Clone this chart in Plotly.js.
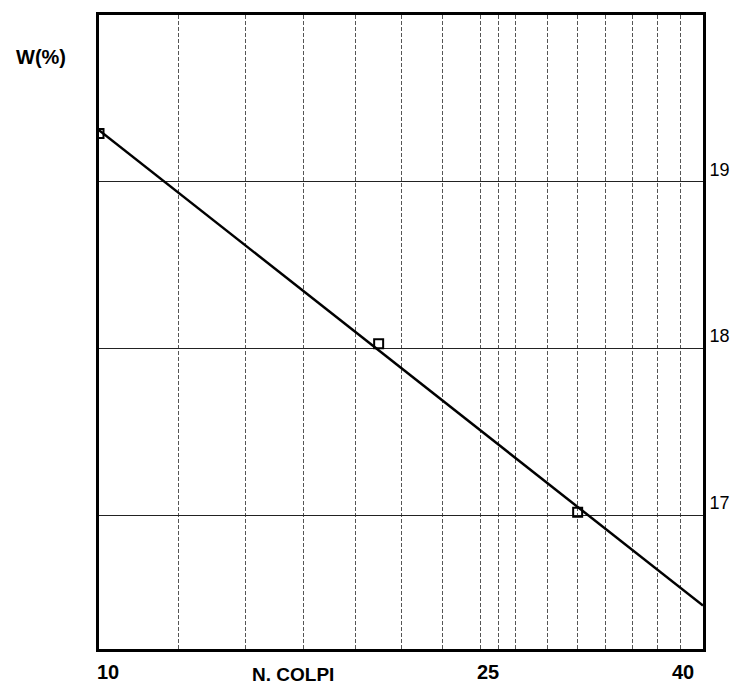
<!DOCTYPE html>
<html>
<head>
<meta charset="utf-8">
<script src="https://cdn.plot.ly/plotly-3.0.1.min.js"></script>
<style>html,body{margin:0;padding:0;background:#fff;}#chart{width:733px;height:686px;}</style>
</head>
<body>
<div id="chart"></div>
<script>
// Measured points: number of blows (N. COLPI) vs water content W(%)
const blows = [10, 19, 30];
const waterContent = [19.29, 18.03, 17.02];
// Fitted straight line (semi-log), read at its two ends
const fitBlows = [10, 40];
const fitWater = [19.31, 16.46];
// Vertical grid positions on the log axis
const gridBlows = [10, 12, 14, 16, 18, 20, 22, 24, 25, 26, 28, 30, 32, 34, 36, 38, 40];
// Labelled x ticks and their small offsets in the original drawing
const xTickValues = [10, 25, 40];
const xTickText = ['10', '25', '40'];
const xTickShift = [9, -10, -20];
// y ticks (right side)
const yTickValues = [17, 18, 19];
const yTickText = ['17', '18', '19'];

const FONT = 'Liberation Sans, Arial, sans-serif';

const traces = [
  {
    x: fitBlows, y: fitWater, type: 'scatter', mode: 'lines',
    line: {color: '#000', width: 2.5}, hoverinfo: 'skip', showlegend: false
  },
  {
    x: blows, y: waterContent, type: 'scatter', mode: 'markers',
    marker: {symbol: 'square-open', size: 9, color: '#000', line: {width: 2, color: '#000'}},
    showlegend: false
  }
];

const annotations = xTickValues.map((v, i) => ({
  x: Math.log10(v), xref: 'x', y: 0, yref: 'paper',
  text: '<b>' + xTickText[i] + '</b>', showarrow: false,
  xanchor: 'center', yanchor: 'middle', xshift: xTickShift[i], yshift: -23,
  font: {family: FONT, size: 20, color: '#000'}
}));
annotations.push({
  x: 0.321, xref: 'paper', y: 0, yref: 'paper', text: '<b>N. COLPI</b>', showarrow: false,
  xanchor: 'center', yanchor: 'middle', yshift: -25,
  font: {family: FONT, size: 19, color: '#000'}
});
annotations.push({
  x: -0.096, xref: 'paper', y: 0.934, yref: 'paper', text: '<b>W(%)</b>', showarrow: false,
  xanchor: 'center', yanchor: 'middle',
  font: {family: FONT, size: 20, color: '#000'}
});

const layout = {
  width: 733, height: 686,
  margin: {l: 99, r: 30, t: 15, b: 37, pad: 0},
  paper_bgcolor: '#fff', plot_bgcolor: '#fff',
  showlegend: false,
  xaxis: {
    type: 'log', range: [1, Math.log10(40)],
    tickmode: 'array', tickvals: gridBlows, showticklabels: false, ticks: '',
    showgrid: true, gridcolor: '#555', gridwidth: 1, griddash: '4px,2px',
    showline: true, mirror: true, linecolor: '#000', linewidth: 3,
    zeroline: false, fixedrange: true
  },
  yaxis: {
    range: [16.2, 20], side: 'right',
    tickmode: 'array', tickvals: yTickValues, ticktext: yTickText, ticks: '',
    ticklabelposition: 'outside top',
    tickfont: {family: FONT, size: 18, color: '#000'},
    showgrid: true, gridcolor: '#222', gridwidth: 1,
    showline: true, mirror: true, linecolor: '#000', linewidth: 3,
    zeroline: false, fixedrange: true
  },
  annotations: annotations
};

Plotly.newPlot('chart', traces, layout, {displayModeBar: false, staticPlot: true});
</script>
</body>
</html>
